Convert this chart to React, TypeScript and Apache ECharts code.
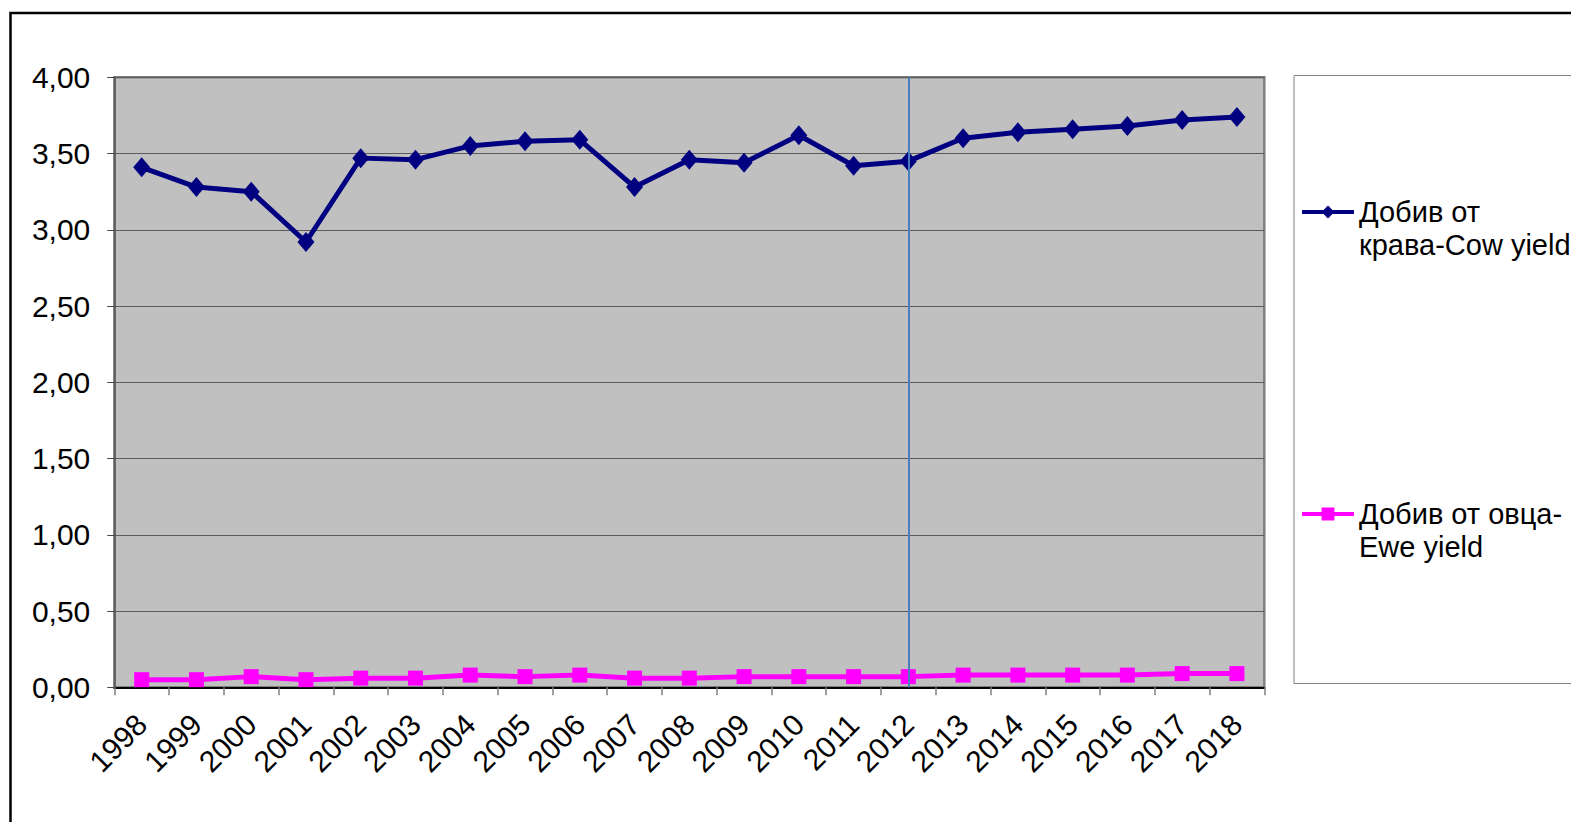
import React, { useEffect, useRef } from "react";
import * as echarts from "echarts";

const years = ["1998","1999","2000","2001","2002","2003","2004","2005","2006","2007","2008","2009","2010","2011","2012","2013","2014","2015","2016","2017","2018"];
const cowYield = [3.41,3.28,3.25,2.92,3.47,3.46,3.55,3.58,3.59,3.28,3.46,3.44,3.62,3.42,3.45,3.60,3.64,3.66,3.68,3.72,3.74];
const eweYield = [0.05,0.05,0.07,0.05,0.06,0.06,0.08,0.07,0.08,0.06,0.06,0.07,0.07,0.07,0.07,0.08,0.08,0.08,0.08,0.09,0.09];
const cowName = "Добив от\nкрава-Cow yield";
const eweName = "Добив от овца-\nEwe yield";
const markYear = "2012";

const FONT = "Liberation Sans, Arial, sans-serif";
const FS = 30;
const LFS = 29;
const LH = 33;

export default function App() {
  const ref = useRef<HTMLDivElement>(null);
  useEffect(() => {
    if (!ref.current) return;
    const chart = echarts.init(ref.current, undefined, { renderer: "svg" });
    const legendText = {
      fontFamily: FONT,
      fontSize: LFS,
      color: "#000",
      lineHeight: LH,
    };
    const legendCommon = {
      left: 1300,
      padding: 0,
      itemWidth: 52,
      itemHeight: 16,
      itemGap: 5,
      textStyle: legendText,
      selectedMode: false,
      lineStyle: { width: 4 },
      formatter: (name: string) => "\n" + name,
    };
    chart.setOption({
      animation: false,
      backgroundColor: "#fff",
      textStyle: { fontFamily: FONT },
      graphic: [
        {
          type: "rect",
          shape: { x: 10.5, y: 13, width: 1700, height: 1000 },
          style: { fill: "none", stroke: "#000", lineWidth: 2.5 },
          z: -10,
        },
        {
          type: "rect",
          shape: { x: 1294, y: 75.5, width: 400, height: 608 },
          style: { fill: "#fff", stroke: "#808080", lineWidth: 1 },
          z: -5,
        },
      ],
      grid: {
        left: 114.3,
        top: 77.3,
        right: 306.7,
        bottom: 134.7,
        show: true,
        backgroundColor: "#C0C0C0",
        borderColor: "#808080",
        borderWidth: 2.5,
      },
      legend: [
        { ...legendCommon, data: [cowName], top: 212 - 1.5 * LH },
        { ...legendCommon, data: [eweName], top: 514 - 1.5 * LH },
      ],
      xAxis: {
        type: "category",
        data: years,
        boundaryGap: true,
        axisLine: { show: true, lineStyle: { color: "#000", width: 2 } },
        axisTick: { show: true, length: 8, lineStyle: { color: "#808080", width: 1.5 } },
        axisLabel: {
          rotate: 45,
          interval: 0,
          margin: 32,
          color: "#000",
          fontFamily: FONT,
          fontSize: FS,
        },
        splitLine: { show: false },
      },
      yAxis: {
        type: "value",
        min: 0,
        max: 4,
        interval: 0.5,
        axisLine: { show: true, lineStyle: { color: "#555", width: 1.5 } },
        axisTick: { show: true, length: 7, lineStyle: { color: "#444", width: 1 } },
        axisLabel: {
          margin: 24,
          color: "#000",
          fontFamily: FONT,
          fontSize: FS,
          formatter: (v: number) => v.toFixed(2).replace(".", ","),
        },
        splitLine: { show: true, lineStyle: { color: "#5a5a5a", width: 1 } },
      },
      series: [
        {
          name: cowName,
          type: "line",
          data: cowYield,
          symbol: "diamond",
          symbolSize: [17, 20],
          lineStyle: { color: "#000080", width: 5 },
          itemStyle: { color: "#000080" },
          z: 3,
        },
        {
          name: eweName,
          type: "line",
          data: eweYield,
          symbol: "rect",
          symbolSize: 15,
          lineStyle: { color: "#FF00FF", width: 5 },
          itemStyle: { color: "#FF00FF" },
          z: 3,
          markLine: {
            silent: true,
            symbol: ["none", "none"],
            label: { show: false },
            lineStyle: { color: "#4A7EBB", width: 2, type: "solid" },
            data: [{ xAxis: markYear }],
            z: 4,
          },
        },
      ],
    });
    return () => chart.dispose();
  }, []);
  return (
    <div
      ref={ref}
      style={{ position: "fixed", left: 0, top: 0, width: 1571, height: 822 }}
    />
  );
}
